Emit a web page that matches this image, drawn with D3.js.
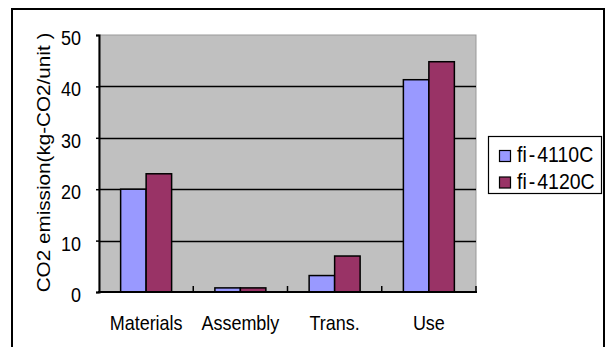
<!DOCTYPE html>
<html>
<head>
<meta charset="utf-8">
<script src="https://cdn.jsdelivr.net/npm/d3@7"></script>
<style>
  html, body { margin: 0; padding: 0; background: #fff; }
  svg { display: block; }
  text { font-family: "Liberation Sans", Arial, sans-serif; font-size: 18px; fill: #000; }
</style>
</head>
<body>
<svg id="chart" width="608" height="347"></svg>
<script>
// Life-cycle CO2 emissions per unit, by stage
const categories = ["Materials", "Assembly", "Trans.", "Use"];
const seriesNames = ["fi-4110C", "fi-4120C"];
const fi4110C = [20, 0.8, 3.2, 41.3];
const fi4120C = [23, 0.8, 7, 44.8];
const yTicks = [0, 10, 20, 30, 40, 50];
const yTitle = "CO2 emission(kg-CO2/unit )";
const colors = ["#9999ff", "#993366"];

const series = [fi4110C, fi4120C];
const svg = d3.select("#chart");

// plot area
const plot = { left: 99, right: 476, top: 35, bottom: 292 };

// text with a slight vertical stretch
function label(g, x, y, str, anchor, extra) {
  return g.append("text")
    .attr("transform", `translate(${x},${y}) scale(1,1.15)` + (extra || ""))
    .attr("text-anchor", anchor)
    .text(str);
}

// outer frame
svg.append("rect")
  .attr("x", 12).attr("y", 9).attr("width", 592).attr("height", 360)
  .attr("fill", "#fff").attr("stroke", "#000").attr("stroke-width", 2);

const pi = 0.459;
const x = d3.scaleBand().domain(categories)
  .range([plot.left, plot.right]).paddingInner(pi).paddingOuter(pi / 2);
const xs = d3.scaleBand().domain(d3.range(series.length)).range([0, x.bandwidth()]);
const y = d3.scaleLinear().domain([0, 50]).range([plot.bottom, plot.top]);

// background
svg.append("rect")
  .attr("x", plot.left).attr("y", plot.top)
  .attr("width", plot.right - plot.left).attr("height", plot.bottom - plot.top)
  .attr("fill", "#c0c0c0").attr("stroke", "#999").attr("stroke-width", 1);

// gridlines
svg.append("g").selectAll("line")
  .data(yTicks.filter(d => d > 0 && d < 50))
  .join("line")
  .attr("x1", plot.left).attr("x2", plot.right)
  .attr("y1", d => Math.round(y(d)) + 0.5).attr("y2", d => Math.round(y(d)) + 0.5)
  .attr("stroke", "#000").attr("stroke-width", 1.3);

// bars
const groups = svg.append("g").selectAll("g")
  .data(categories)
  .join("g")
  .attr("transform", c => `translate(${x(c)},0)`);

groups.selectAll("rect")
  .data((c, i) => series.map((s, k) => ({ k, v: s[i] })))
  .join("rect")
  .attr("x", d => xs(d.k))
  .attr("y", d => y(d.v))
  .attr("width", xs.bandwidth())
  .attr("height", d => y(0) - y(d.v))
  .attr("fill", d => colors[d.k])
  .attr("stroke", "#000").attr("stroke-width", 1.5);

// y axis
const yAxis = svg.append("g")
  .attr("transform", `translate(${plot.left},0)`)
  .call(d3.axisLeft(y).tickValues(yTicks).tickSize(3).tickFormat(""));
yAxis.select(".domain").attr("stroke-width", 2);
yAxis.selectAll(".tick line").attr("stroke-width", 1.5);

const yLabels = svg.append("g");
yTicks.forEach(t => label(yLabels, 81, y(t) + 10, String(t), "end"));

// x axis line and category dividers
const xAxisG = svg.append("g");
xAxisG.append("line")
  .attr("x1", plot.left - 1).attr("x2", plot.right + 1)
  .attr("y1", plot.bottom).attr("y2", plot.bottom)
  .attr("stroke", "#000").attr("stroke-width", 2);
const bounds = categories.map(c => x(c) + x.bandwidth() + (x.step() - x.bandwidth()) / 2);
xAxisG.selectAll("line.div")
  .data(bounds)
  .join("line").attr("class", "div")
  .attr("x1", d => d).attr("x2", d => d)
  .attr("y1", plot.bottom).attr("y2", plot.bottom - 6)
  .attr("stroke", "#000").attr("stroke-width", 1.5);

categories.forEach(c => label(xAxisG, x(c) + x.bandwidth() / 2, 330, c, "middle"));

// y axis title
label(svg, 50, 162.5, yTitle, "middle", " rotate(-90)");

// legend
const lg = svg.append("g");
lg.append("rect")
  .attr("x", 488.5).attr("y", 136.5).attr("width", 113).attr("height", 57)
  .attr("fill", "#fff").attr("stroke", "#000").attr("stroke-width", 1.2);
seriesNames.forEach((name, k) => {
  const base = 162 + k * 26.5;
  lg.append("rect")
    .attr("x", 499.5).attr("y", base - 11.5).attr("width", 11).attr("height", 11)
    .attr("fill", colors[k]).attr("stroke", "#000").attr("stroke-width", 1.2);
  const t = lg.append("text")
    .style("font-size", "19.5px")
    .attr("transform", `translate(517,${base}) scale(1,1.1)`);
  const parts = name.split("-");
  t.append("tspan").text(parts[0]);
  t.append("tspan").attr("dx", 2).text("-");
  t.append("tspan").attr("dx", 2).text(parts[1]);
});
</script>
</body>
</html>
